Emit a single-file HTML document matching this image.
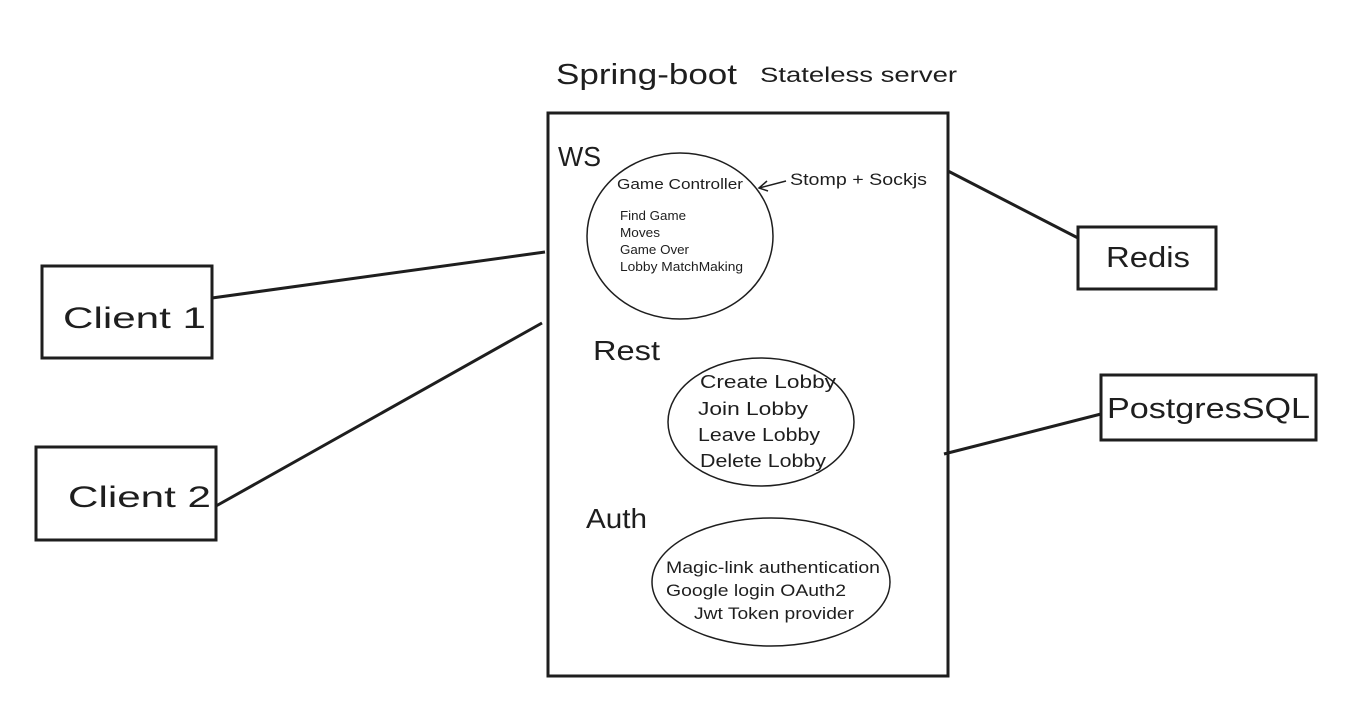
<!DOCTYPE html>
<html><head><style>
body{margin:0;background:#fff;}
svg text{font-family:"Liberation Sans",sans-serif;fill:#1e1e1e;}
</style></head><body>
<svg width="1354" height="698" viewBox="0 0 1354 698" xmlns="http://www.w3.org/2000/svg">
<g fill="none" stroke="#1e1e1e" stroke-width="3">
<rect x="548" y="113" width="400" height="563"/>
<rect x="42" y="266" width="170" height="92"/>
<rect x="36" y="447" width="180" height="93"/>
<rect x="1078" y="227" width="138" height="62"/>
<rect x="1101" y="375" width="215" height="65"/>
<line x1="212" y1="298" x2="545" y2="252"/>
<line x1="216" y1="506" x2="542" y2="323"/>
<line x1="948" y1="171" x2="1078" y2="238"/>
<line x1="944" y1="454" x2="1101" y2="414"/>
</g>
<g fill="none" stroke="#1e1e1e" stroke-width="1.5">
<ellipse cx="680" cy="236" rx="93" ry="83"/>
<ellipse cx="761" cy="422" rx="93" ry="64"/>
<ellipse cx="771" cy="582" rx="119" ry="64"/>
<line x1="786" y1="181" x2="759" y2="188"/>
<polyline points="767,181 759,188 768,191"/>
</g>
<g lengthAdjust="spacingAndGlyphs">
<text x="556" y="84" font-size="29" textLength="181" lengthAdjust="spacingAndGlyphs">Spring-boot</text>
<text x="760" y="82" font-size="21" textLength="197" lengthAdjust="spacingAndGlyphs">Stateless server</text>
<text x="558" y="166" font-size="28" textLength="43" lengthAdjust="spacingAndGlyphs">WS</text>
<text x="617" y="189" font-size="15" textLength="126" lengthAdjust="spacingAndGlyphs">Game Controller</text>
<text x="620" y="220" font-size="13" textLength="66" lengthAdjust="spacingAndGlyphs">Find Game</text>
<text x="620" y="237" font-size="13" textLength="40" lengthAdjust="spacingAndGlyphs">Moves</text>
<text x="620" y="254" font-size="13" textLength="69" lengthAdjust="spacingAndGlyphs">Game Over</text>
<text x="620" y="271" font-size="13" textLength="123" lengthAdjust="spacingAndGlyphs">Lobby MatchMaking</text>
<text x="790" y="185" font-size="17" textLength="137" lengthAdjust="spacingAndGlyphs">Stomp + Sockjs</text>
<text x="593" y="360" font-size="28" textLength="67" lengthAdjust="spacingAndGlyphs">Rest</text>
<text x="700" y="388" font-size="18" textLength="136" lengthAdjust="spacingAndGlyphs">Create Lobby</text>
<text x="698" y="415" font-size="18" textLength="110" lengthAdjust="spacingAndGlyphs">Join Lobby</text>
<text x="698" y="441" font-size="18" textLength="122" lengthAdjust="spacingAndGlyphs">Leave Lobby</text>
<text x="700" y="467" font-size="18" textLength="126" lengthAdjust="spacingAndGlyphs">Delete Lobby</text>
<text x="586" y="528" font-size="28" textLength="61" lengthAdjust="spacingAndGlyphs">Auth</text>
<text x="666" y="573" font-size="17" textLength="214" lengthAdjust="spacingAndGlyphs">Magic-link authentication</text>
<text x="666" y="596" font-size="17" textLength="180" lengthAdjust="spacingAndGlyphs">Google login OAuth2</text>
<text x="694" y="619" font-size="17" textLength="160" lengthAdjust="spacingAndGlyphs">Jwt Token provider</text>
<text x="63" y="328" font-size="30" textLength="143" lengthAdjust="spacingAndGlyphs">Client 1</text>
<text x="68" y="507" font-size="30" textLength="143" lengthAdjust="spacingAndGlyphs">Client 2</text>
<text x="1106" y="267" font-size="29" textLength="84" lengthAdjust="spacingAndGlyphs">Redis</text>
<text x="1107" y="418" font-size="29" textLength="203" lengthAdjust="spacingAndGlyphs">PostgresSQL</text>
</g>
</svg>
</body></html>
